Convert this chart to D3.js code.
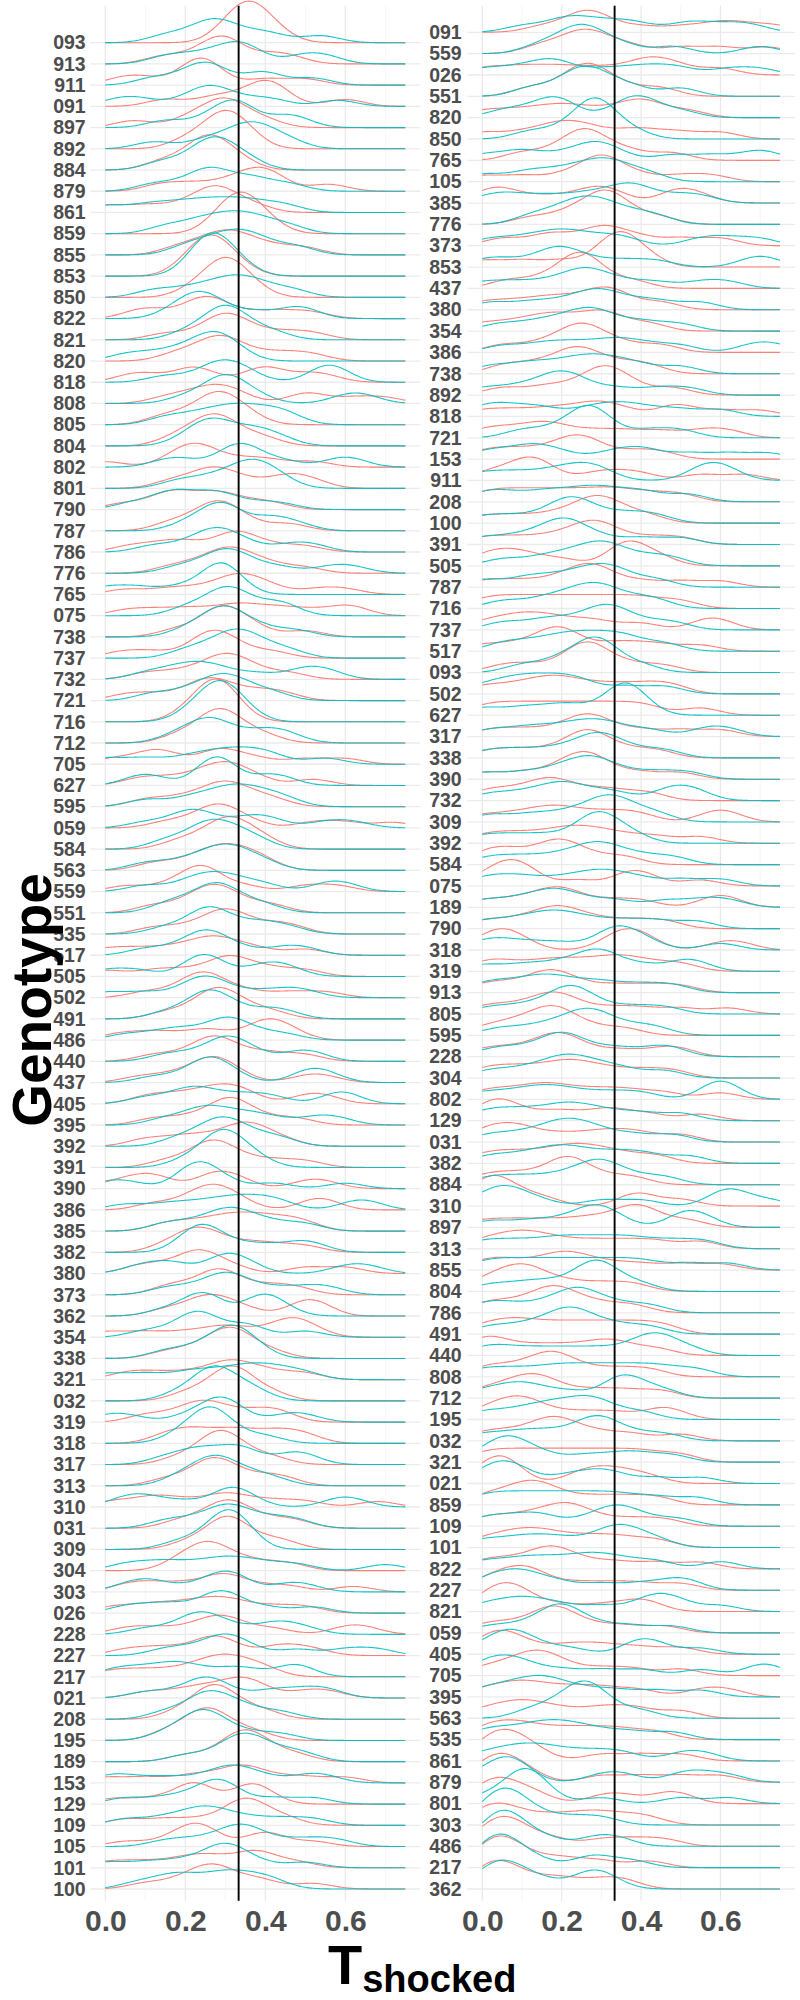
<!DOCTYPE html>
<html>
<head>
<meta charset="utf-8">
<script src="https://cdn.jsdelivr.net/npm/d3@7"></script>
<style>
  body { margin: 0; background: #fff; }
  text { font-family: "Liberation Sans", Arial, sans-serif; }
</style>
</head>
<body>
<svg id="chart" width="800" height="2000"></svg>
<script>

// genotypes, top to bottom, one list per panel
var leftGenotypes = ["093","913","911","091","897","892","884","879","861","859","855","853","850","822","821","820","818","808","805","804","802","801","790","787","786","776","765","075","738","737","732","721","716","712","705","627","595","059","584","563","559","551","535","517","505","502","491","486","440","437","405","395","392","391","390","386","385","382","380","373","362","354","338","321","032","319","318","317","313","310","031","309","304","303","026","228","227","217","021","208","195","189","153","129","109","105","101","100"];

var rightGenotypes = ["091","559","026","551","820","850","765","105","385","776","373","853","437","380","354","386","738","892","818","721","153","911","208","100","391","505","787","716","737","517","093","502","627","317","338","390","732","309","392","584","075","189","790","318","319","913","805","595","228","304","802","129","031","382","884","310","897","313","855","804","786","491","440","808","712","195","032","321","021","859","109","101","822","227","821","059","405","705","395","563","535","861","879","801","303","486","217","362"];

var leftRed = [
  [0.3,0.33,0.35,0.36,0.37,0.39,0.43],             // 093
  [0.14,0.22,0.27,0.29,0.3,0.32,0.4,0.46],          // 913
  [0.04,0.1,0.2,0.23,0.24,0.25,0.27,0.4,0.5],       // 911
  [0.15,0.26,0.32,0.38,0.4,0.41,0.44,0.6],          // 091
  [0.07,0.2,0.25,0.28,0.3,0.31,0.34,0.4],           // 897
  [0.2,0.26,0.28,0.3,0.31,0.33,0.36],               // 892
  [0.14,0.21,0.24,0.26,0.27,0.29,0.34],             // 884
  [0.14,0.22,0.3,0.35,0.38,0.4,0.43,0.56],          // 879
  [0.0,0.1,0.19,0.25,0.27,0.28,0.31,0.37],          // 861
  [0.28,0.31,0.33,0.34,0.35,0.37,0.41],             // 859
  [0.18,0.24,0.28,0.3,0.33,0.36,0.42,0.5],          // 855
  [0.2,0.23,0.25,0.26,0.27,0.28,0.3,0.34],          // 853
  [0.22,0.27,0.29,0.3,0.31,0.33,0.37],              // 850
  [0.08,0.12,0.2,0.24,0.25,0.27,0.3,0.38,0.45,0.52],// 822
  [0.15,0.24,0.28,0.3,0.31,0.33,0.38,0.45,0.52],    // 821
  [0.17,0.22,0.26,0.28,0.29,0.31,0.34,0.4,0.46,0.52],// 820
  [0.06,0.11,0.2,0.22,0.25,0.37,0.4,0.42,0.5,0.55], // 818
  [0.15,0.21,0.25,0.28,0.3,0.34,0.49,0.52,0.62,0.7],// 808
  [0.14,0.2,0.25,0.27,0.28,0.3,0.32,0.36],          // 805
  [0.17,0.22,0.25,0.27,0.28,0.3,0.34,0.4],          // 804
  [0.0,0.16,0.2,0.22,0.23,0.25,0.3,0.36,0.42,0.52], // 802
  [0.16,0.22,0.26,0.28,0.3,0.36,0.44,0.47,0.52],    // 801
  [0.04,0.12,0.16,0.18,0.2,0.26,0.28,0.3,0.36,0.42],// 790
  [0.16,0.22,0.26,0.28,0.29,0.31,0.36,0.46],        // 787
  [0.06,0.13,0.18,0.22,0.3,0.32,0.33,0.36,0.42,0.5],// 786
  [0.16,0.22,0.26,0.29,0.31,0.32,0.34,0.38,0.42,0.5],// 776
  [0.05,0.15,0.22,0.28,0.32,0.33,0.35,0.38,0.42,0.53,0.6], // 765
  [0.05,0.12,0.19,0.25,0.32,0.34,0.4,0.45,0.52,0.6,0.62],  // 075
  [0.17,0.24,0.27,0.29,0.3,0.31,0.34,0.38,0.5],     // 738
  [0.04,0.12,0.22,0.25,0.27,0.28,0.3,0.34,0.42],    // 737
  [0.1,0.18,0.24,0.28,0.3,0.31,0.34,0.38,0.46],     // 732
  [0.05,0.12,0.2,0.24,0.26,0.27,0.3,0.35,0.4,0.45], // 721
  [0.2,0.24,0.26,0.27,0.28,0.29,0.3,0.33],          // 716
  [0.18,0.24,0.27,0.28,0.29,0.31,0.34,0.4],         // 712
  [0.02,0.1,0.13,0.16,0.26,0.29,0.31,0.38,0.5,0.6], // 705
  [0.08,0.15,0.22,0.26,0.29,0.31,0.33,0.38,0.52],   // 627
  [0.1,0.18,0.24,0.28,0.3,0.32,0.36,0.42],          // 595
  [0.15,0.22,0.26,0.28,0.29,0.31,0.36,0.52,0.6,0.72],// 059
  [0.18,0.24,0.28,0.3,0.31,0.33,0.36,0.4],          // 584
  [0.12,0.2,0.25,0.28,0.3,0.33,0.36,0.4],           // 563
  [0.05,0.15,0.21,0.23,0.24,0.25,0.27,0.35,0.5,0.58],// 559
  [0.12,0.2,0.24,0.27,0.28,0.3,0.35,0.42],          // 551
  [0.12,0.2,0.26,0.29,0.3,0.32,0.36,0.42,0.47],     // 535
  [0.0,0.08,0.16,0.22,0.26,0.28,0.32,0.38,0.5],     // 517
  [0.0,0.12,0.2,0.28,0.3,0.32,0.36,0.42,0.5],       // 505
  [0.1,0.18,0.22,0.24,0.25,0.26,0.3,0.36,0.46,0.55],// 502
  [0.15,0.22,0.26,0.27,0.28,0.3,0.32,0.36,0.42],    // 491
  [0.03,0.1,0.16,0.24,0.27,0.36,0.4,0.41,0.43,0.47],// 486
  [0.12,0.2,0.25,0.27,0.28,0.3,0.36,0.42,0.5],      // 440
  [0.08,0.15,0.2,0.24,0.26,0.27,0.28,0.3,0.34,0.5,0.55], // 437
  [0.1,0.16,0.22,0.26,0.3,0.32,0.36,0.5,0.55],      // 405
  [0.12,0.2,0.26,0.3,0.31,0.32,0.34,0.4,0.48],      // 395
  [0.1,0.18,0.24,0.3,0.34,0.36,0.38,0.44],          // 392
  [0.15,0.22,0.25,0.27,0.28,0.3,0.35,0.42,0.5],     // 391
  [0.02,0.08,0.11,0.14,0.25,0.28,0.3,0.34,0.5,0.55],// 390
  [0.12,0.2,0.24,0.26,0.28,0.3,0.34,0.52,0.55],     // 386
  [0.15,0.22,0.28,0.32,0.36,0.4,0.45,0.5],          // 385
  [0.15,0.2,0.22,0.24,0.26,0.3,0.36,0.42,0.5],      // 382
  [0.08,0.14,0.2,0.23,0.24,0.26,0.32,0.5,0.6],      // 380
  [0.15,0.2,0.26,0.28,0.29,0.3,0.36,0.42,0.48],     // 373
  [0.15,0.22,0.25,0.27,0.3,0.35,0.48,0.52,0.53],    // 362
  [0.0,0.1,0.2,0.28,0.31,0.38,0.45,0.46,0.48,0.52], // 354
  [0.15,0.22,0.26,0.29,0.31,0.32,0.33,0.36,0.42],   // 338
  [0.05,0.12,0.2,0.27,0.3,0.33,0.36,0.42,0.5],      // 321
  [0.2,0.26,0.3,0.31,0.32,0.33,0.36,0.42],          // 032
  [0.1,0.18,0.23,0.25,0.28,0.34,0.4,0.44],          // 319
  [0.15,0.2,0.24,0.3,0.34,0.4,0.45,0.5],            // 318
  [0.18,0.24,0.27,0.28,0.29,0.3,0.32,0.36,0.42],    // 317
  [0.15,0.22,0.25,0.27,0.28,0.3,0.34,0.4,0.45],     // 313
  [0.02,0.1,0.14,0.2,0.28,0.3,0.35,0.42,0.5,0.68],  // 310
  [0.18,0.24,0.28,0.3,0.31,0.33,0.36,0.42,0.48],    // 031
  [0.2,0.26,0.29,0.3,0.31,0.32,0.34,0.4,0.45],      // 309
  [0.18,0.22,0.25,0.26,0.28,0.32,0.38,0.46],        // 304
  [0.05,0.1,0.16,0.22,0.28,0.3,0.31,0.38,0.46,0.62],// 303
  [0.02,0.1,0.16,0.22,0.26,0.3,0.34,0.42,0.5],      // 026
  [0.05,0.12,0.2,0.26,0.28,0.3,0.34,0.42,0.6,0.65], // 228
  [0.05,0.12,0.18,0.25,0.27,0.28,0.32,0.42,0.46,0.52], // 227
  [0.02,0.1,0.18,0.24,0.27,0.3,0.32,0.36,0.4],      // 217
  [0.1,0.18,0.24,0.27,0.33,0.34,0.35,0.4,0.5,0.56], // 021
  [0.18,0.24,0.26,0.27,0.28,0.3,0.34,0.4],          // 208
  [0.15,0.2,0.24,0.25,0.26,0.28,0.32,0.38],         // 195
  [0.2,0.28,0.32,0.34,0.35,0.36,0.38,0.42,0.48],    // 189
  [0.0,0.1,0.2,0.26,0.32,0.34,0.36,0.42,0.5,0.6],   // 153
  [0.02,0.12,0.2,0.22,0.23,0.24,0.35,0.36,0.37,0.4],// 129
  [0.05,0.15,0.24,0.32,0.34,0.35,0.36,0.4,0.45],    // 109
  [0.05,0.15,0.2,0.22,0.23,0.24,0.27,0.38,0.4,0.42,0.52], // 105
  [0.0,0.08,0.16,0.22,0.25,0.3,0.36,0.38,0.4,0.48], // 101
  [0.1,0.18,0.22,0.25,0.27,0.28,0.3,0.36,0.4,0.52]  // 100
];

// teal group, left panel
var leftTeal = [
  [0.15,0.22,0.26,0.28,0.3,0.36,0.42,0.54],         // 093
  [0.15,0.22,0.28,0.32,0.34,0.37,0.49,0.55],        // 913
  [0.12,0.2,0.24,0.26,0.28,0.38,0.41,0.52],         // 911
  [0.03,0.09,0.2,0.25,0.27,0.28,0.35,0.42,0.58],    // 091
  [0.15,0.25,0.3,0.32,0.33,0.35,0.44,0.48],         // 897
  [0.12,0.24,0.3,0.34,0.36,0.38,0.41,0.46],         // 892
  [0.14,0.22,0.25,0.27,0.29,0.31,0.36],             // 884
  [0.12,0.2,0.25,0.27,0.28,0.35,0.38,0.46],         // 879
  [0.0,0.1,0.17,0.23,0.28,0.33,0.38,0.45],          // 861
  [0.15,0.22,0.26,0.3,0.33,0.36,0.4,0.46],          // 859
  [0.2,0.26,0.3,0.33,0.36,0.4,0.48],                // 855
  [0.22,0.25,0.26,0.27,0.28,0.3,0.34],              // 853
  [0.12,0.2,0.26,0.3,0.33,0.36,0.4,0.47],           // 850
  [0.17,0.21,0.23,0.24,0.26,0.3,0.38,0.47,0.5],     // 822
  [0.2,0.26,0.28,0.3,0.31,0.32,0.36,0.42],          // 821
  [0.05,0.12,0.18,0.22,0.25,0.27,0.28,0.3,0.33],    // 820
  [0.15,0.24,0.28,0.3,0.32,0.36,0.54,0.56,0.58],    // 818
  [0.2,0.26,0.29,0.3,0.31,0.33,0.38,0.6,0.65],      // 808
  [0.15,0.22,0.27,0.31,0.34,0.38,0.42,0.46],        // 805
  [0.2,0.24,0.26,0.27,0.29,0.33,0.37,0.39,0.44],    // 804
  [0.15,0.2,0.3,0.32,0.34,0.35,0.38,0.45,0.58,0.62],// 802
  [0.18,0.25,0.3,0.34,0.36,0.38,0.4,0.44],          // 801
  [0.06,0.13,0.16,0.18,0.21,0.26,0.28,0.3,0.37,0.44],// 790
  [0.2,0.25,0.28,0.29,0.3,0.32,0.4,0.42,0.48],      // 787
  [0.12,0.2,0.25,0.27,0.29,0.31,0.36,0.46,0.52],    // 786
  [0.18,0.24,0.28,0.3,0.31,0.33,0.37,0.44,0.56,0.62],// 776
  [0.0,0.08,0.18,0.26,0.28,0.29,0.3,0.32],          // 765
  [0.2,0.26,0.29,0.31,0.32,0.35,0.42,0.45],         // 075
  [0.2,0.25,0.28,0.29,0.3,0.32,0.35,0.4,0.48],      // 738
  [0.2,0.26,0.3,0.32,0.34,0.36,0.4,0.46],           // 737
  [0.1,0.16,0.2,0.23,0.26,0.3,0.38,0.48,0.52,0.56], // 732
  [0.12,0.2,0.25,0.28,0.3,0.32,0.36,0.42],          // 721
  [0.21,0.25,0.27,0.28,0.29,0.3,0.32,0.35],         // 716
  [0.17,0.22,0.25,0.26,0.28,0.32,0.38,0.42,0.46],   // 712
  [0.0,0.1,0.2,0.26,0.3,0.34,0.38,0.42,0.55],       // 705
  [0.08,0.12,0.25,0.27,0.28,0.29,0.3,0.4,0.44],     // 627
  [0.1,0.2,0.26,0.3,0.33,0.36,0.4,0.45],            // 595
  [0.1,0.18,0.21,0.23,0.26,0.34,0.38,0.42,0.55,0.62],// 059
  [0.15,0.22,0.25,0.27,0.3,0.33,0.38],              // 584
  [0.1,0.18,0.24,0.27,0.3,0.32,0.35,0.4],           // 563
  [0.1,0.2,0.24,0.27,0.3,0.34,0.4,0.55,0.6],        // 559
  [0.15,0.2,0.25,0.27,0.28,0.3,0.34,0.4],           // 551
  [0.15,0.22,0.25,0.26,0.27,0.3,0.36,0.4,0.46],     // 535
  [0.1,0.18,0.23,0.25,0.26,0.28,0.34,0.44,0.5],     // 517
  [0.0,0.08,0.22,0.24,0.25,0.28,0.38,0.42,0.46],    // 505
  [0.0,0.1,0.2,0.23,0.25,0.27,0.3,0.38,0.45,0.5],   // 502
  [0.15,0.22,0.24,0.26,0.27,0.29,0.33,0.4,0.45],    // 491
  [0.05,0.13,0.18,0.22,0.28,0.3,0.31,0.33,0.38,0.45],// 486
  [0.15,0.22,0.28,0.3,0.31,0.33,0.38,0.48,0.52],    // 440
  [0.12,0.2,0.24,0.26,0.27,0.28,0.32,0.5,0.52,0.56],// 437
  [0.1,0.18,0.22,0.24,0.3,0.36,0.42,0.58,0.6],      // 405
  [0.15,0.22,0.25,0.27,0.32,0.36,0.42,0.52,0.58],   // 395
  [0.18,0.24,0.27,0.29,0.31,0.33,0.38,0.44],        // 392
  [0.2,0.26,0.28,0.29,0.3,0.31,0.34,0.38],          // 391
  [0.0,0.06,0.2,0.22,0.23,0.24,0.26,0.3,0.42,0.6],  // 390
  [0.05,0.15,0.22,0.28,0.32,0.36,0.4,0.44,0.62,0.66],// 386
  [0.15,0.22,0.28,0.3,0.33,0.36,0.42,0.5],          // 385
  [0.2,0.23,0.24,0.25,0.27,0.33,0.4,0.48,0.52],     // 382
  [0.08,0.14,0.18,0.28,0.3,0.32,0.36,0.6,0.66],     // 380
  [0.15,0.22,0.28,0.3,0.31,0.35,0.42,0.5,0.56],     // 373
  [0.15,0.22,0.24,0.25,0.27,0.38,0.39,0.4,0.44],    // 362
  [0.1,0.18,0.22,0.23,0.24,0.27,0.35,0.36,0.5],     // 354
  [0.15,0.22,0.27,0.3,0.31,0.33,0.34,0.38],         // 338
  [0.0,0.1,0.2,0.26,0.32,0.36,0.4,0.44,0.5],        // 321
  [0.18,0.24,0.26,0.27,0.28,0.3,0.34,0.38],         // 032
  [0.0,0.06,0.2,0.26,0.28,0.29,0.3,0.33,0.45,0.5],  // 319
  [0.18,0.23,0.25,0.26,0.27,0.28,0.32,0.4],         // 318
  [0.15,0.22,0.24,0.3,0.33,0.36,0.46,0.5],          // 317
  [0.18,0.23,0.26,0.27,0.29,0.32,0.36,0.42],        // 313
  [0.04,0.08,0.12,0.2,0.3,0.31,0.32,0.36,0.58,0.62],// 310
  [0.15,0.22,0.28,0.3,0.32,0.36,0.42,0.48],         // 031
  [0.18,0.25,0.28,0.3,0.31,0.32,0.33,0.35],         // 309
  [0.05,0.12,0.18,0.25,0.3,0.34,0.4,0.48,0.7],      // 304
  [0.05,0.1,0.13,0.22,0.28,0.3,0.31,0.34,0.45,0.5], // 303
  [0.05,0.12,0.18,0.25,0.29,0.3,0.31,0.4,0.52],     // 026
  [0.1,0.18,0.22,0.24,0.25,0.28,0.34,0.42,0.44,0.5],// 228
  [0.15,0.22,0.28,0.3,0.31,0.36,0.48,0.6,0.68],     // 227
  [0.02,0.08,0.14,0.18,0.22,0.3,0.36,0.47,0.48],    // 217
  [0.1,0.18,0.24,0.25,0.26,0.3,0.4,0.46,0.52,0.56], // 021
  [0.15,0.22,0.25,0.26,0.28,0.32,0.36,0.44],        // 208
  [0.15,0.2,0.23,0.24,0.25,0.27,0.3,0.36,0.44],     // 195
  [0.2,0.28,0.32,0.34,0.35,0.37,0.4,0.45,0.5],      // 189
  [0.0,0.06,0.15,0.24,0.3,0.32,0.34,0.4,0.5,0.55],  // 153
  [0.05,0.15,0.22,0.26,0.28,0.3,0.31,0.42,0.52],    // 129
  [0.05,0.14,0.2,0.24,0.26,0.3,0.36,0.44,0.52],     // 109
  [0.15,0.22,0.28,0.32,0.34,0.35,0.38,0.45,0.52,0.58], // 105
  [0.0,0.1,0.18,0.24,0.28,0.3,0.31,0.32,0.38,0.5],  // 101
  [0.08,0.15,0.18,0.22,0.28,0.3,0.34,0.38,0.42]     // 100
];

// red group, right panel
var rightRed = [
  [0.15,0.22,0.25,0.27,0.28,0.32,0.4,0.5,0.58,0.62,0.68,0.75], // 091
  [0.14,0.2,0.24,0.26,0.28,0.32,0.38,0.5,0.6,0.72], // 559
  [0.0,0.08,0.15,0.22,0.3,0.38,0.42,0.45,0.5,0.6],  // 026
  [0.12,0.2,0.24,0.26,0.28,0.3,0.36,0.45],          // 551
  [0.0,0.08,0.15,0.2,0.25,0.32,0.38,0.4,0.44,0.52], // 820
  [0.0,0.1,0.17,0.2,0.24,0.28,0.36,0.42,0.5,0.6],   // 850
  [0.1,0.18,0.23,0.25,0.26,0.28,0.32,0.38,0.48],    // 765
  [0.0,0.1,0.2,0.26,0.29,0.3,0.31,0.34,0.4,0.5,0.58], // 105
  [0.0,0.04,0.06,0.14,0.22,0.28,0.3,0.34,0.48,0.5,0.55], // 385
  [0.12,0.2,0.24,0.28,0.3,0.31,0.32,0.34,0.38,0.45],// 776
  [0.05,0.15,0.2,0.28,0.3,0.34,0.4,0.5,0.6],        // 373
  [0.0,0.1,0.2,0.3,0.32,0.34,0.35,0.36,0.38,0.42],  // 853
  [0.06,0.14,0.2,0.23,0.24,0.25,0.27,0.3,0.38],     // 437
  [0.0,0.08,0.15,0.2,0.26,0.3,0.32,0.36,0.45],      // 380
  [0.0,0.08,0.14,0.18,0.22,0.28,0.3,0.34,0.42],     // 354
  [0.05,0.14,0.2,0.23,0.25,0.27,0.3,0.36,0.45],     // 386
  [0.05,0.12,0.18,0.22,0.24,0.26,0.3,0.36,0.42],    // 738
  [0.05,0.15,0.22,0.28,0.3,0.31,0.34,0.38,0.48],    // 892
  [0.0,0.08,0.16,0.22,0.28,0.3,0.36,0.48,0.5,0.6,0.7], // 818
  [0.0,0.06,0.12,0.16,0.2,0.28,0.36,0.45,0.55,0.62],// 721
  [0.0,0.06,0.12,0.18,0.22,0.24,0.26,0.3,0.38,0.45],// 153
  [0.0,0.06,0.1,0.12,0.14,0.16,0.28,0.34,0.4,0.55,0.66], // 911
  [0.0,0.06,0.12,0.18,0.24,0.3,0.35,0.42,0.5],      // 208
  [0.0,0.08,0.16,0.22,0.26,0.28,0.3,0.32,0.36,0.42],// 100
  [0.0,0.08,0.16,0.22,0.26,0.28,0.3,0.34,0.42,0.5], // 391
  [0.0,0.04,0.08,0.12,0.2,0.34,0.36,0.37,0.4,0.45], // 505
  [0.0,0.08,0.16,0.22,0.25,0.27,0.29,0.32,0.4,0.5,0.6], // 787
  [0.0,0.06,0.12,0.18,0.24,0.3,0.36,0.42,0.5],      // 716
  [0.0,0.06,0.1,0.14,0.18,0.24,0.3,0.4,0.56,0.6],   // 737
  [0.0,0.08,0.14,0.18,0.19,0.2,0.24,0.32,0.38,0.45,0.55], // 517
  [0.05,0.12,0.2,0.24,0.26,0.27,0.28,0.32,0.38,0.46], // 093
  [0.0,0.08,0.14,0.18,0.22,0.28,0.35,0.42,0.48],    // 502
  [0.0,0.06,0.12,0.18,0.24,0.3,0.36,0.42,0.55],     // 627
  [0.02,0.1,0.18,0.24,0.26,0.28,0.32,0.4,0.5,0.6],  // 317
  [0.02,0.1,0.18,0.24,0.26,0.27,0.3,0.36,0.44],     // 338
  [0.0,0.1,0.18,0.22,0.25,0.26,0.28,0.32,0.4,0.5],  // 390
  [0.0,0.06,0.12,0.16,0.18,0.22,0.28,0.34,0.42],    // 732
  [0.0,0.08,0.14,0.18,0.22,0.28,0.34,0.4,0.58,0.62],// 309
  [0.0,0.06,0.12,0.18,0.22,0.26,0.3,0.36,0.44,0.55],// 392
  [0.0,0.04,0.08,0.14,0.18,0.2,0.22,0.28,0.36],     // 584
  [0.0,0.04,0.06,0.08,0.1,0.12,0.24,0.36,0.38,0.42,0.55], // 075
  [0.0,0.08,0.14,0.18,0.2,0.24,0.32,0.4,0.58,0.62], // 189
  [0.0,0.08,0.14,0.18,0.2,0.24,0.3,0.38,0.46],      // 790
  [0.0,0.03,0.05,0.07,0.1,0.32,0.35,0.37,0.39,0.42,0.6,0.65], // 318
  [0.0,0.06,0.14,0.2,0.26,0.32,0.36,0.42,0.5],      // 319
  [0.0,0.06,0.12,0.16,0.18,0.2,0.26,0.34,0.42,0.5], // 913
  [0.0,0.06,0.12,0.16,0.18,0.2,0.24,0.32,0.4,0.5,0.62], // 805
  [0.0,0.06,0.1,0.14,0.16,0.18,0.2,0.22,0.28,0.36], // 595
  [0.0,0.06,0.12,0.16,0.19,0.2,0.22,0.28,0.36,0.45,0.5], // 228
  [0.0,0.06,0.12,0.18,0.22,0.26,0.32,0.4,0.48],     // 304
  [0.0,0.06,0.12,0.16,0.2,0.26,0.32,0.38,0.46,0.6], // 802
  [0.0,0.03,0.05,0.08,0.16,0.22,0.3,0.34,0.42,0.55],// 129
  [0.0,0.04,0.08,0.12,0.2,0.28,0.34,0.4,0.5],       // 031
  [0.0,0.06,0.12,0.18,0.22,0.26,0.3,0.36,0.44],     // 382
  [0.0,0.06,0.12,0.18,0.21,0.22,0.24,0.3,0.38],     // 884
  [0.0,0.0,0.02,0.04,0.06,0.1,0.16,0.38,0.4,0.5],   // 310
  [0.0,0.08,0.16,0.24,0.3,0.36,0.38,0.4,0.44,0.52], // 897
  [0.0,0.06,0.1,0.14,0.2,0.28,0.36,0.44,0.55],      // 313
  [0.0,0.04,0.1,0.16,0.2,0.22,0.26,0.32,0.4,0.5,0.6], // 855
  [0.0,0.04,0.08,0.1,0.12,0.16,0.22,0.3,0.38],      // 804
  [0.0,0.06,0.12,0.16,0.18,0.2,0.24,0.3,0.38],      // 786
  [0.0,0.06,0.1,0.16,0.22,0.28,0.34,0.4,0.46],      // 491
  [0.0,0.0,0.04,0.1,0.16,0.22,0.28,0.32,0.36,0.44], // 440
  [0.0,0.06,0.12,0.16,0.18,0.2,0.26,0.34,0.42],     // 808
  [0.0,0.06,0.1,0.13,0.15,0.2,0.28,0.36,0.45],      // 712
  [0.0,0.04,0.08,0.1,0.12,0.18,0.26,0.34,0.44,0.48],// 195
  [0.0,0.06,0.12,0.16,0.18,0.2,0.24,0.3,0.38,0.5],  // 032
  [0.0,0.06,0.12,0.18,0.24,0.3,0.36,0.42,0.5],      // 321
  [0.0,0.03,0.04,0.06,0.08,0.24,0.28,0.32,0.36,0.42], // 021
  [0.0,0.06,0.1,0.13,0.15,0.2,0.28,0.36,0.44],      // 859
  [0.0,0.06,0.12,0.16,0.2,0.22,0.24,0.3,0.38,0.46], // 109
  [0.0,0.06,0.1,0.14,0.18,0.24,0.3,0.36,0.44],      // 101
  [0.0,0.06,0.12,0.16,0.18,0.2,0.26,0.34,0.44,0.55],// 822
  [0.0,0.04,0.08,0.1,0.12,0.16,0.24,0.32,0.4,0.5],  // 227
  [0.0,0.03,0.05,0.07,0.09,0.12,0.2,0.3,0.38,0.42], // 821
  [0.0,0.06,0.12,0.16,0.18,0.19,0.22,0.28,0.36,0.46], // 059
  [0.0,0.03,0.05,0.07,0.12,0.2,0.26,0.32,0.4,0.5],  // 405
  [0.0,0.06,0.1,0.13,0.15,0.17,0.22,0.3,0.38,0.5],  // 705
  [0.0,0.06,0.1,0.14,0.2,0.26,0.32,0.4,0.55,0.62],  // 395
  [0.0,0.06,0.1,0.14,0.2,0.28,0.34,0.4,0.5],        // 563
  [0.0,0.04,0.08,0.12,0.18,0.24,0.3,0.36,0.44],     // 535
  [0.0,0.02,0.04,0.06,0.08,0.1,0.14,0.3,0.4,0.5],   // 861
  [0.0,0.02,0.04,0.06,0.08,0.12,0.3,0.4,0.5,0.6],   // 879
  [0.0,0.02,0.04,0.06,0.1,0.14,0.3,0.36,0.46,0.5],  // 801
  [0.0,0.02,0.05,0.08,0.14,0.2,0.26,0.3,0.36,0.42], // 303
  [0.0,0.03,0.05,0.06,0.08,0.12,0.18,0.3,0.38,0.46],// 486
  [0.0,0.02,0.04,0.05,0.07,0.1,0.16,0.22,0.3,0.42], // 217
  [0.0,0.02,0.04,0.06,0.1,0.16,0.22,0.3,0.36]       // 362
];

// teal group, right panel
var rightTeal = [
  [0.1,0.18,0.22,0.25,0.3,0.35,0.4,0.5,0.55,0.62,0.68], // 091
  [0.14,0.2,0.23,0.25,0.27,0.3,0.36,0.48,0.7],      // 559
  [0.0,0.08,0.14,0.18,0.2,0.3,0.38,0.44,0.5,0.62,0.7], // 026
  [0.12,0.2,0.24,0.26,0.28,0.32,0.38,0.5],          // 551
  [0.05,0.12,0.17,0.19,0.21,0.34,0.38,0.4,0.42,0.5],// 820
  [0.12,0.2,0.25,0.27,0.28,0.29,0.3,0.32,0.38],     // 850
  [0.0,0.08,0.12,0.2,0.26,0.28,0.3,0.34,0.48,0.58,0.68,0.72], // 765
  [0.0,0.1,0.16,0.22,0.26,0.3,0.32,0.36,0.42],      // 105
  [0.02,0.08,0.16,0.24,0.3,0.35,0.38,0.4,0.48,0.55],// 385
  [0.12,0.18,0.22,0.25,0.27,0.3,0.33,0.38,0.44],    // 776
  [0.02,0.1,0.16,0.2,0.24,0.3,0.36,0.55,0.62,0.7],  // 373
  [0.0,0.06,0.14,0.18,0.2,0.22,0.28,0.36,0.44,0.68,0.72], // 853
  [0.0,0.08,0.16,0.22,0.25,0.27,0.3,0.36,0.44,0.55,0.62], // 437
  [0.02,0.12,0.2,0.26,0.29,0.32,0.38,0.45,0.55],    // 380
  [0.04,0.12,0.18,0.22,0.26,0.28,0.3,0.36,0.42,0.5],// 354
  [0.05,0.14,0.2,0.26,0.32,0.36,0.42,0.5,0.68,0.74],// 386
  [0.02,0.1,0.16,0.22,0.26,0.3,0.34,0.4,0.5],       // 738
  [0.0,0.08,0.14,0.18,0.2,0.22,0.26,0.34,0.44,0.52],// 892
  [0.0,0.04,0.1,0.16,0.26,0.32,0.36,0.42,0.5,0.6],  // 818
  [0.1,0.18,0.24,0.26,0.27,0.28,0.32,0.42,0.5],     // 721
  [0.0,0.06,0.12,0.14,0.2,0.32,0.38,0.42,0.52,0.62,0.72], // 153
  [0.0,0.08,0.16,0.22,0.26,0.3,0.55,0.58,0.62],     // 911
  [0.0,0.06,0.14,0.2,0.26,0.3,0.36,0.42,0.52],      // 208
  [0.0,0.08,0.16,0.2,0.22,0.24,0.26,0.32,0.38,0.44],// 100
  [0.0,0.08,0.14,0.18,0.2,0.22,0.24,0.3,0.4,0.5],   // 391
  [0.05,0.14,0.2,0.24,0.28,0.3,0.32,0.36,0.42,0.48],// 505
  [0.0,0.1,0.16,0.22,0.26,0.3,0.32,0.36,0.44],      // 787
  [0.05,0.14,0.2,0.24,0.27,0.3,0.32,0.38,0.44],     // 716
  [0.05,0.14,0.2,0.26,0.3,0.32,0.34,0.4,0.48],      // 737
  [0.05,0.12,0.18,0.22,0.26,0.3,0.34,0.38,0.46],    // 517
  [0.1,0.18,0.22,0.26,0.28,0.29,0.3,0.33,0.4],      // 093
  [0.0,0.06,0.1,0.14,0.18,0.22,0.26,0.36,0.46],     // 502
  [0.0,0.1,0.18,0.24,0.33,0.35,0.36,0.37,0.4],      // 627
  [0.02,0.1,0.16,0.22,0.26,0.3,0.34,0.42,0.56,0.62],// 317
  [0.02,0.1,0.18,0.24,0.28,0.3,0.32,0.38,0.46],     // 338
  [0.0,0.1,0.18,0.22,0.26,0.28,0.3,0.36,0.44,0.52], // 390
  [0.02,0.1,0.16,0.2,0.22,0.28,0.34,0.46,0.5,0.54], // 732
  [0.02,0.12,0.2,0.26,0.3,0.32,0.34,0.38,0.44],     // 309
  [0.0,0.08,0.16,0.24,0.28,0.29,0.3,0.33,0.38],     // 392
  [0.02,0.1,0.18,0.24,0.28,0.3,0.34,0.4,0.48],      // 584
  [0.0,0.06,0.12,0.2,0.26,0.3,0.34,0.4,0.5,0.6],    // 075
  [0.0,0.08,0.14,0.18,0.2,0.26,0.34,0.46,0.55,0.62],// 189
  [0.0,0.08,0.14,0.18,0.22,0.28,0.36,0.44,0.54],    // 790
  [0.0,0.05,0.12,0.2,0.3,0.33,0.35,0.37,0.42,0.6],  // 318
  [0.0,0.1,0.18,0.24,0.28,0.3,0.32,0.4,0.5,0.54],   // 319
  [0.0,0.06,0.12,0.16,0.2,0.26,0.32,0.4,0.48],      // 913
  [0.02,0.1,0.16,0.2,0.22,0.23,0.25,0.3,0.38,0.46], // 805
  [0.04,0.12,0.18,0.22,0.25,0.27,0.29,0.32,0.38,0.44], // 595
  [0.02,0.08,0.14,0.18,0.2,0.21,0.24,0.3,0.36,0.44,0.48], // 228
  [0.02,0.1,0.16,0.2,0.22,0.26,0.3,0.36,0.46],      // 304
  [0.0,0.08,0.14,0.18,0.24,0.32,0.4,0.58,0.6,0.62], // 802
  [0.0,0.06,0.12,0.18,0.22,0.26,0.32,0.4,0.5],      // 129
  [0.02,0.1,0.16,0.2,0.22,0.26,0.3,0.38,0.48],      // 031
  [0.02,0.1,0.16,0.2,0.24,0.3,0.36,0.42,0.52],      // 382
  [0.02,0.1,0.18,0.24,0.28,0.3,0.32,0.38,0.46],     // 884
  [0.0,0.04,0.06,0.08,0.14,0.3,0.4,0.6,0.62,0.64,0.72], // 310
  [0.02,0.12,0.2,0.26,0.28,0.3,0.34,0.5,0.52,0.56], // 897
  [0.0,0.08,0.16,0.22,0.28,0.34,0.4,0.48,0.56],     // 313
  [0.0,0.06,0.12,0.18,0.24,0.3,0.36,0.42,0.52,0.62],// 855
  [0.02,0.1,0.16,0.22,0.27,0.28,0.29,0.3,0.34,0.4], // 804
  [0.0,0.06,0.14,0.2,0.23,0.25,0.28,0.34,0.42],     // 786
  [0.02,0.1,0.16,0.2,0.22,0.24,0.28,0.34,0.42],     // 491
  [0.0,0.06,0.14,0.22,0.3,0.38,0.42,0.44,0.46,0.52],// 440
  [0.0,0.08,0.16,0.22,0.28,0.34,0.4,0.46,0.54],     // 808
  [0.0,0.06,0.1,0.14,0.22,0.33,0.35,0.36,0.4,0.46], // 712
  [0.0,0.08,0.14,0.18,0.22,0.26,0.28,0.32,0.4],     // 195
  [0.0,0.08,0.14,0.2,0.26,0.28,0.3,0.32,0.38,0.46], // 032
  [0.0,0.04,0.06,0.08,0.1,0.16,0.26,0.34,0.4,0.48], // 321
  [0.0,0.03,0.05,0.08,0.1,0.2,0.26,0.3,0.34,0.44,0.55], // 021
  [0.0,0.06,0.12,0.18,0.24,0.3,0.36,0.44,0.54],     // 859
  [0.0,0.06,0.12,0.16,0.26,0.32,0.34,0.36,0.42,0.5],// 109
  [0.0,0.08,0.14,0.2,0.28,0.33,0.35,0.38,0.44],     // 101
  [0.0,0.08,0.14,0.2,0.26,0.3,0.36,0.44,0.6],       // 822
  [0.0,0.04,0.08,0.1,0.14,0.2,0.3,0.4,0.48,0.52],   // 227
  [0.0,0.06,0.1,0.14,0.2,0.3,0.4,0.44,0.46,0.5,0.6],// 821
  [0.02,0.1,0.16,0.18,0.2,0.21,0.24,0.3,0.38,0.48], // 059
  [0.0,0.04,0.06,0.08,0.1,0.14,0.22,0.38,0.41,0.44,0.55], // 405
  [0.0,0.02,0.06,0.08,0.12,0.2,0.3,0.4,0.55,0.7,0.72], // 705
  [0.0,0.06,0.1,0.14,0.16,0.2,0.26,0.34,0.44,0.55], // 395
  [0.12,0.18,0.22,0.24,0.26,0.27,0.28,0.32,0.4],    // 563
  [0.0,0.06,0.12,0.16,0.2,0.24,0.3,0.38,0.48],      // 535
  [0.0,0.06,0.1,0.14,0.18,0.24,0.3,0.36,0.5,0.56],  // 861
  [0.0,0.04,0.06,0.08,0.1,0.3,0.36,0.5,0.55,0.62],  // 879
  [0.0,0.06,0.09,0.1,0.11,0.12,0.13,0.16,0.3,0.5,0.62], // 801
  [0.0,0.03,0.05,0.06,0.07,0.1,0.14,0.22,0.3],      // 303
  [0.0,0.03,0.05,0.06,0.07,0.1,0.16,0.28,0.34],     // 486
  [0.0,0.02,0.04,0.05,0.06,0.09,0.14,0.26,0.3,0.38],// 217
  [0.0,0.03,0.05,0.07,0.1,0.16,0.26,0.28,0.32]      // 362
];

var xTickValues = [0, 0.2, 0.4, 0.6];
var xMinorValues = [0.1, 0.3, 0.5, 0.7];
var xDomain = [0, 0.75];
var threshold = 1 / 3;
var groupColors = ["#F8766D", "#00BFC4"];

var svg = d3.select("#chart");
var bandwidth = 0.047;
var panelTop = 5.7, panelBottom = 1900.7;
var grid = d3.range(0, 0.7501, 0.005);

function gauss(u) { return Math.exp(-0.5 * u * u) / Math.sqrt(2 * Math.PI); }

function density(samples) {
  return grid.map(function(x) {
    return [x, d3.mean(samples, function(s) { return gauss((x - s) / bandwidth); }) / bandwidth];
  });
}

// each panel is its own plot, so each gets its own ridge height scale
var panels = [
  { genotypes: leftGenotypes, red: leftRed, teal: leftTeal, k: 6.4,
    xr: [105.3, 405.3], yr: [42.7, 1889], left: 90.3, right: 420.3, pad: 4.6 },
  { genotypes: rightGenotypes, red: rightRed, teal: rightTeal, k: 7.6,
    xr: [482.3, 780], yr: [32.3, 1889], left: 467.4, right: 795, pad: 5.7 }
];

panels.forEach(function(p) {
  var x = d3.scaleLinear().domain(xDomain).range(p.xr);
  var y = d3.scalePoint().domain(p.genotypes).range(p.yr);
  var g = svg.append("g");

  // grid
  g.selectAll(".vminor").data(xMinorValues).enter().append("line")
    .attr("x1", x).attr("x2", x).attr("y1", panelTop).attr("y2", panelBottom)
    .attr("stroke", "#f2f2f2").attr("stroke-width", 0.8);
  g.selectAll(".vmajor").data(xTickValues).enter().append("line")
    .attr("x1", x).attr("x2", x).attr("y1", panelTop).attr("y2", panelBottom)
    .attr("stroke", "#e8e8e8").attr("stroke-width", 1.2);
  g.selectAll(".hgrid").data(p.genotypes).enter().append("line")
    .attr("x1", p.left).attr("x2", p.right)
    .attr("y1", function(d) { return y(d); }).attr("y2", function(d) { return y(d); })
    .attr("stroke", "#ebebeb").attr("stroke-width", 1.3);

  // ridges: red first, teal over it
  [p.red, p.teal].forEach(function(series, gi) {
    p.genotypes.forEach(function(geno, i) {
      var base = y(geno);
      var line = d3.line()
        .x(function(d) { return x(d[0]); })
        .y(function(d) { return base - p.k * d[1]; })
        .curve(d3.curveMonotoneX);
      g.append("path")
        .attr("d", line(density(series[i])))
        .attr("fill", "none")
        .attr("stroke", groupColors[gi])
        .attr("stroke-opacity", 0.9)
        .attr("stroke-width", 1.1);
    });
  });

  // 1/3 reference line
  g.append("line")
    .attr("x1", x(threshold)).attr("x2", x(threshold))
    .attr("y1", panelTop).attr("y2", panelBottom)
    .attr("stroke", "#000").attr("stroke-width", 1.9);

  // genotype labels
  var ay = g.append("g").attr("transform", "translate(" + p.left + ",0)")
    .call(d3.axisLeft(y).tickSize(0).tickPadding(p.pad));
  ay.select(".domain").remove();
  ay.selectAll("text")
    .attr("font-family", "Liberation Sans, Arial, sans-serif")
    .attr("font-size", 19.5).attr("font-weight", "bold").attr("fill", "#4D4D4D");

  // x tick labels
  var ax = g.append("g").attr("transform", "translate(0," + panelBottom + ")")
    .call(d3.axisBottom(x).tickValues(xTickValues).tickFormat(d3.format(".1f"))
      .tickSize(0).tickPadding(8.7));
  ax.select(".domain").remove();
  ax.selectAll("text")
    .attr("font-family", "Liberation Sans, Arial, sans-serif")
    .attr("font-size", 30).attr("font-weight", "bold").attr("fill", "#4D4D4D");
});

// axis titles
svg.append("text")
  .attr("transform", "translate(51,1000) rotate(-90)")
  .attr("text-anchor", "middle")
  .attr("font-size", 55).attr("font-weight", "bold").attr("fill", "#000")
  .text("Genotype");

var title = svg.append("text")
  .attr("x", 328).attr("y", 1984)
  .attr("font-weight", "bold").attr("fill", "#000");
title.append("tspan").attr("font-size", 56).text("T");
title.append("tspan").attr("font-size", 38).attr("dy", 8).text("shocked");

</script>
</body>
</html>
